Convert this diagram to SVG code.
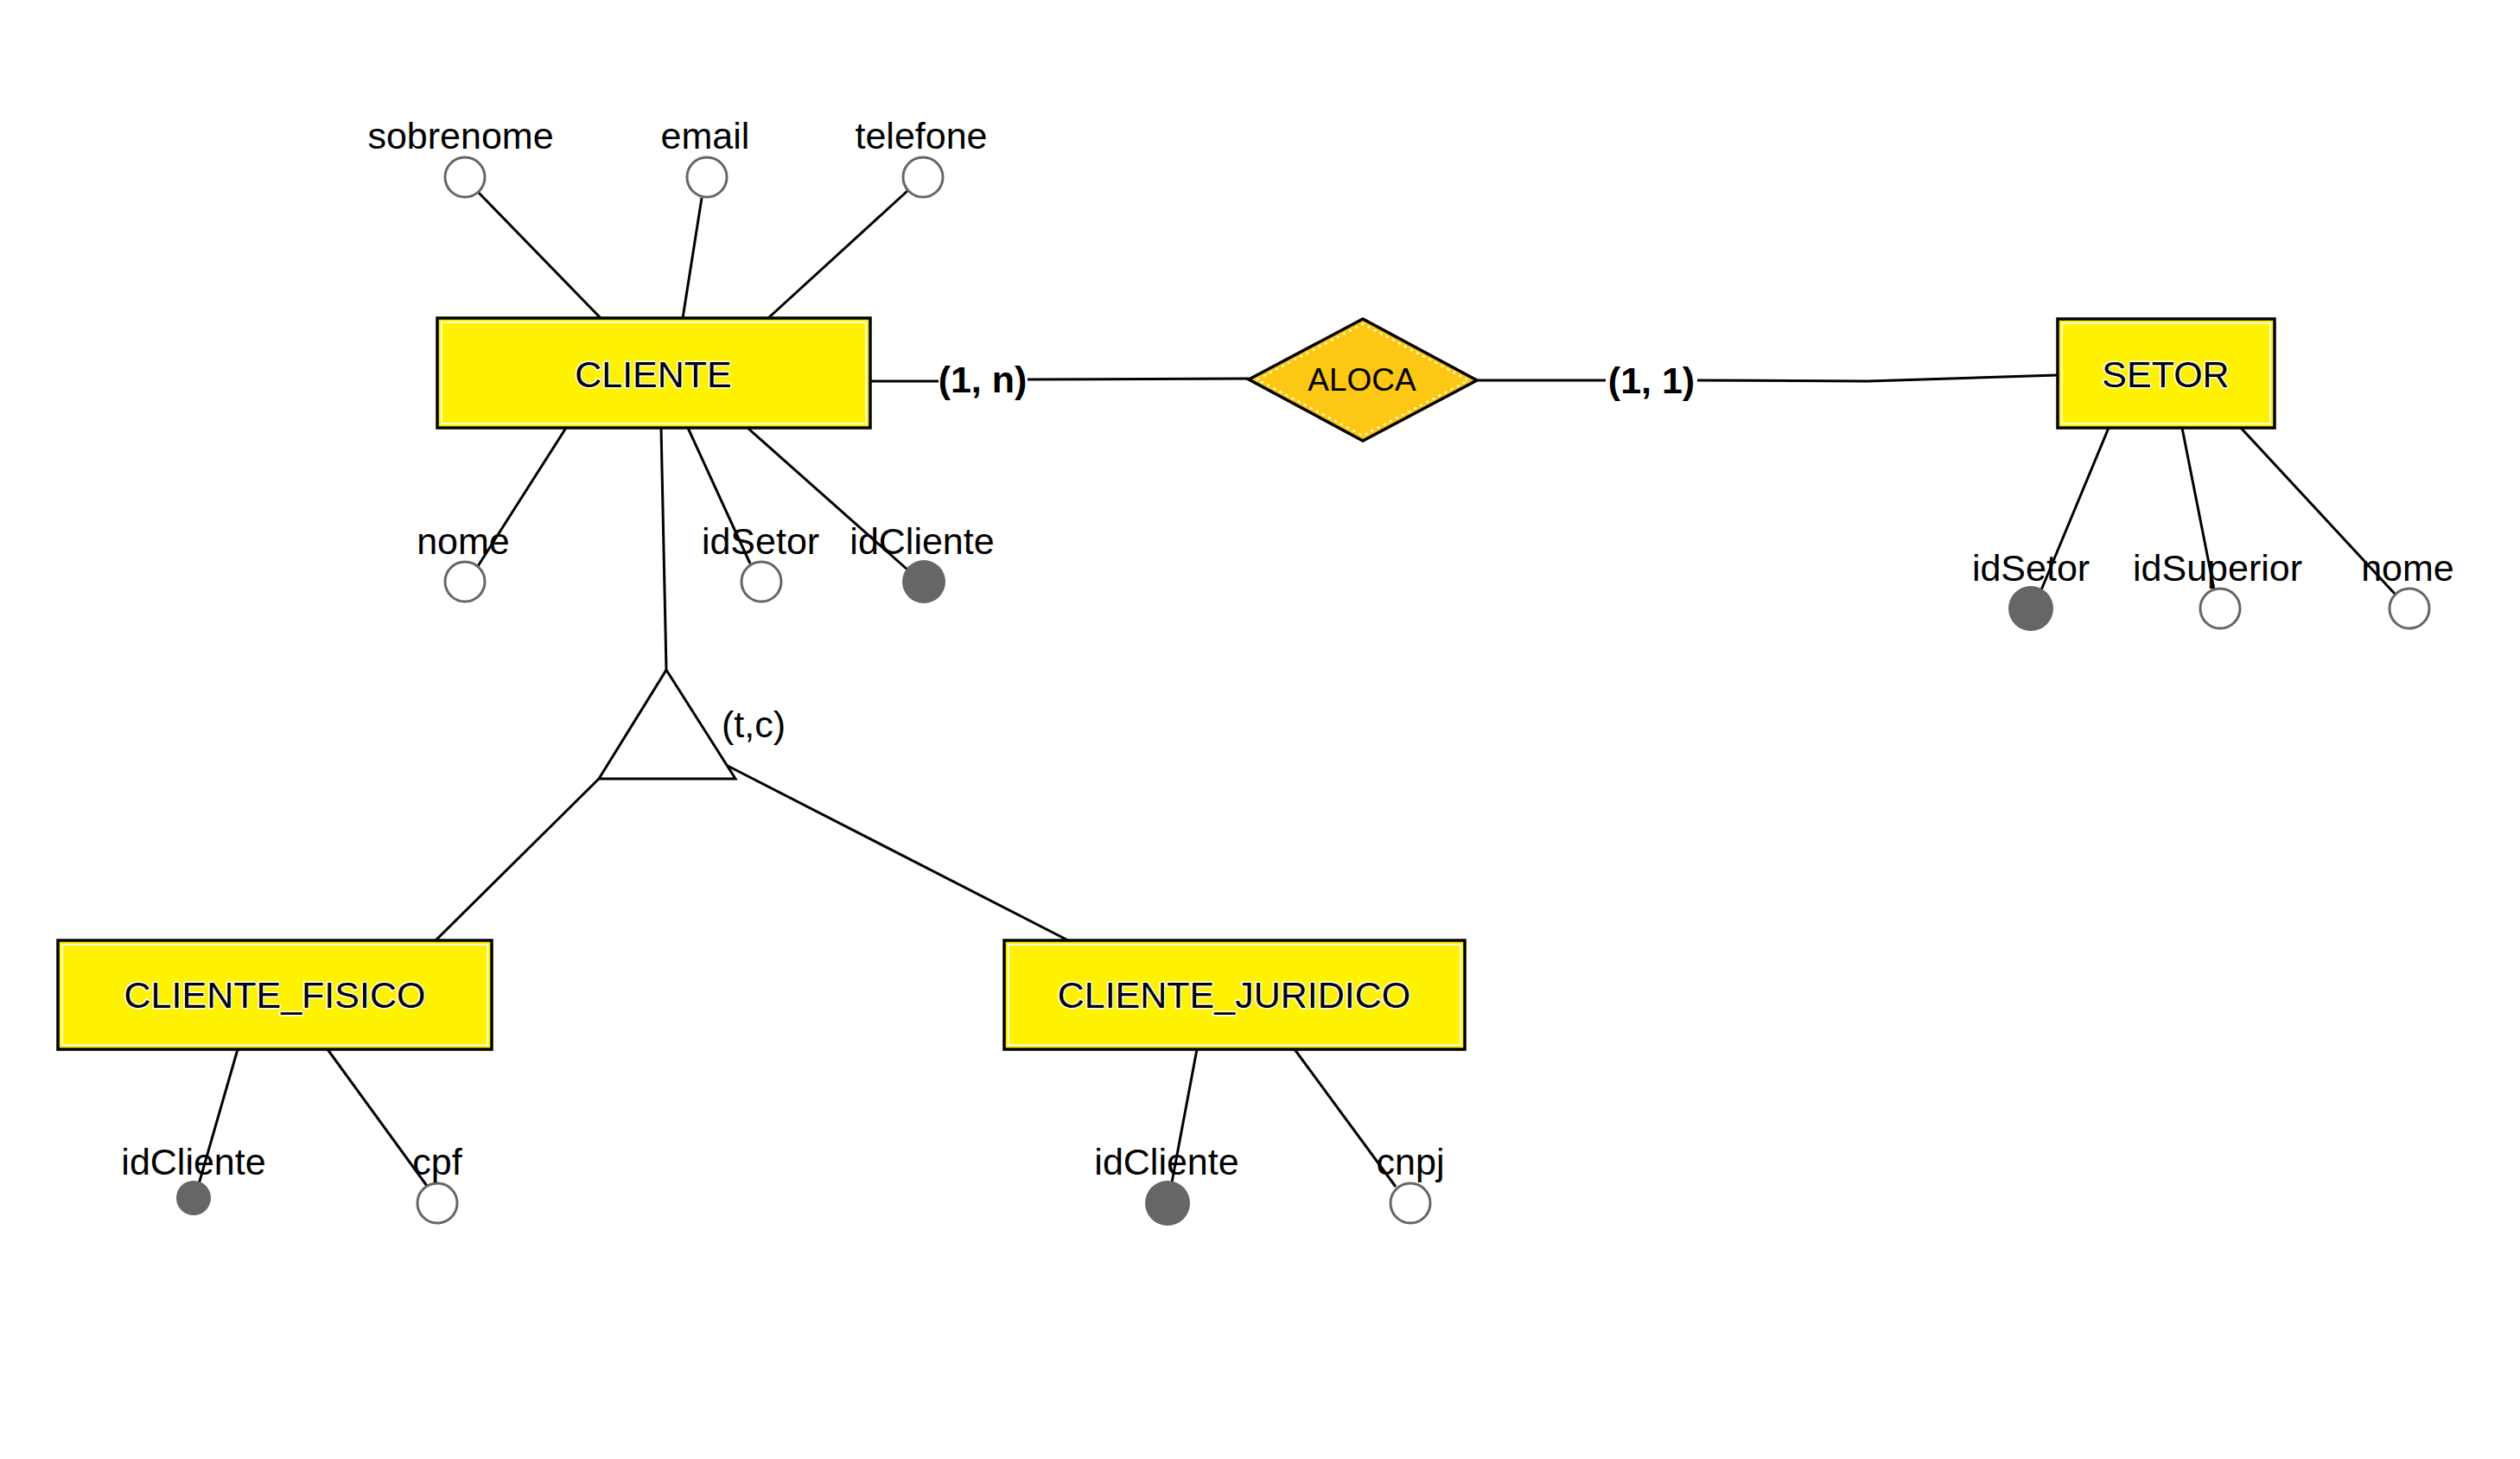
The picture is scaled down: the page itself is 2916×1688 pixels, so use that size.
<svg xmlns="http://www.w3.org/2000/svg" width="2916" height="1688" viewBox="0 0 2916 1688">
<style>
text{font-family:"Liberation Sans",Arial,Helvetica,sans-serif;font-size:43px;fill:#000;text-anchor:middle}
.ent{fill:#fff200;stroke:#000;stroke-width:3.5}
.inner{fill:none;stroke:#fffbe0;stroke-width:2}
.etxt{stroke:#fff;stroke-width:3;paint-order:stroke;stroke-linejoin:round}
.rel{fill:#fcc814;stroke:#000;stroke-width:3.5}
.relin{fill:none;stroke:#fff;stroke-width:2;stroke-dasharray:3 5}
.attr{fill:#fff;stroke:#666;stroke-width:3}
.key{fill:#666;stroke:none}
.ln{fill:none;stroke:#000;stroke-width:3}
.card{font-weight:bold}
</style>
<rect width="2916" height="1688" fill="#fff"/>
<g id="connectors">
<line class="ln" x1="554" y1="223" x2="695" y2="368"/>
<line class="ln" x1="812" y1="229" x2="790" y2="368"/>
<line class="ln" x1="1051" y1="220" x2="889" y2="368"/>
<line class="ln" x1="655" y1="495" x2="553" y2="655"/>
<line class="ln" x1="796" y1="495" x2="868" y2="652"/>
<line class="ln" x1="865" y1="495" x2="1050" y2="659"/>
<line class="ln" x1="765" y1="495" x2="771" y2="775"/>
<line class="ln" x1="693" y1="901" x2="504" y2="1088"/>
<line class="ln" x1="840" y1="885" x2="1236" y2="1088"/>
<line class="ln" x1="275" y1="1214" x2="230" y2="1370"/>
<line class="ln" x1="379" y1="1214" x2="494" y2="1372"/>
<line class="ln" x1="1385" y1="1214" x2="1356" y2="1368"/>
<line class="ln" x1="1498" y1="1214" x2="1615" y2="1373"/>
<line class="ln" x1="2440" y1="495" x2="2361" y2="685"/>
<line class="ln" x1="2525" y1="495" x2="2562" y2="682"/>
<line class="ln" x1="2593" y1="495" x2="2772" y2="688"/>
<line class="ln" x1="1007" y1="441" x2="1086" y2="441"/>
<line class="ln" x1="1189" y1="439" x2="1445" y2="438"/>
<line class="ln" x1="1709" y1="440" x2="1858" y2="440"/>
<polyline class="ln" points="1964,440 2161,441 2381,434"/>
<text class="card" x="1137" y="454">(1, n)</text>
<text class="card" x="1911" y="455">(1, 1)</text>
</g>
<g id="CLIENTE">
<rect class="ent" x="506" y="368" width="501" height="127"/>
<rect class="inner" x="511" y="373" width="491" height="117"/>
<text class="etxt" x="756" y="448">CLIENTE</text>
</g>
<g id="SETOR">
<rect class="ent" x="2381" y="369" width="251" height="126"/>
<rect class="inner" x="2386" y="374" width="241" height="116"/>
<text class="etxt" x="2506" y="448">SETOR</text>
</g>
<g id="CLIENTE_FISICO">
<rect class="ent" x="67" y="1088" width="502" height="126"/>
<rect class="inner" x="72" y="1093" width="492" height="116"/>
<text class="etxt" x="318" y="1166">CLIENTE_FISICO</text>
</g>
<g id="CLIENTE_JURIDICO">
<rect class="ent" x="1162" y="1088" width="533" height="126"/>
<rect class="inner" x="1167" y="1093" width="523" height="116"/>
<text class="etxt" x="1428" y="1166">CLIENTE_JURIDICO</text>
</g>
<g id="ALOCA">
<polygon class="rel" points="1445,439 1577,369 1709,440 1577,510"/>
<polygon class="relin" points="1455,439 1577,375 1699,440 1577,504"/>
<text x="1576" y="452" style="font-size:37px">ALOCA</text>
</g>
<g id="heranca">
<polygon fill="#fff" stroke="#000" stroke-width="3" points="771,775 693,901 851,901"/>
<text x="872" y="853">(t,c)</text>
</g>
<g id="attr-sobrenome"><circle class="attr" cx="538" cy="205" r="23"/><text x="533" y="172">sobrenome</text></g>
<g id="attr-email"><circle class="attr" cx="818" cy="205" r="23"/><text x="816" y="172">email</text></g>
<g id="attr-telefone"><circle class="attr" cx="1068" cy="205" r="23"/><text x="1066" y="172">telefone</text></g>
<g id="attr-cliente-nome"><circle class="attr" cx="538" cy="673" r="23"/><text x="536" y="641">nome</text></g>
<g id="attr-cliente-idSetor"><circle class="attr" cx="881" cy="673" r="23"/><text x="880" y="641">idSetor</text></g>
<g id="attr-cliente-idCliente"><circle class="key" cx="1069" cy="673" r="25"/><text x="1067" y="641">idCliente</text></g>
<g id="attr-setor-idSetor"><circle class="key" cx="2350" cy="704" r="26"/><text x="2350" y="672">idSetor</text></g>
<g id="attr-setor-idSuperior"><circle class="attr" cx="2569" cy="704" r="23"/><text x="2566" y="672">idSuperior</text></g>
<g id="attr-setor-nome"><circle class="attr" cx="2788" cy="704" r="23"/><text x="2786" y="672">nome</text></g>
<g id="attr-fisico-idCliente"><circle class="key" cx="224" cy="1386" r="20"/><text x="224" y="1359">idCliente</text></g>
<g id="attr-fisico-cpf"><circle class="attr" cx="506" cy="1392" r="23"/><text x="506" y="1359">cpf</text></g>
<g id="attr-juridico-idCliente"><circle class="key" cx="1351" cy="1392" r="26"/><text x="1350" y="1359">idCliente</text></g>
<g id="attr-juridico-cnpj"><circle class="attr" cx="1632" cy="1392" r="23"/><text x="1632" y="1359">cnpj</text></g>
</svg>
